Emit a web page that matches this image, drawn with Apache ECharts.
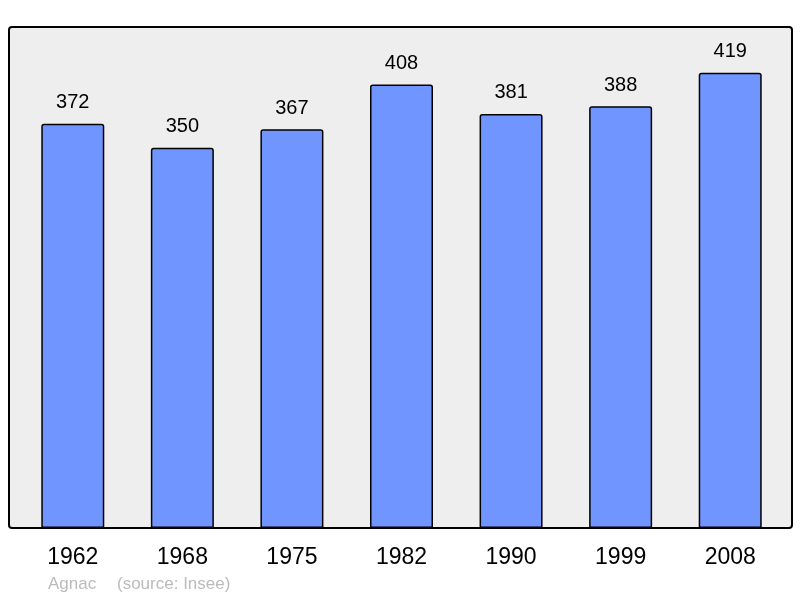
<!DOCTYPE html>
<html>
<head>
<meta charset="utf-8">
<script src="https://cdn.jsdelivr.net/npm/echarts@6/dist/echarts.min.js"></script>
<style>
html,body{margin:0;padding:0;background:#fff;}
#chart{width:800px;height:598px;}
</style>
</head>
<body>
<div id="chart"></div>
<script>
var years = ['1962', '1968', '1975', '1982', '1990', '1999', '2008'];
var population = [372, 350, 367, 408, 381, 388, 419];
var commune = 'Agnac';
var source = '(source: Insee)';

var myChart = echarts.init(document.getElementById('chart'));
var option = {
  animation: false,
  graphic: [
    {
      type: 'rect',
      z: -10,
      shape: { x: 9, y: 27, width: 783, height: 501, r: 3 },
      style: { fill: '#eeeeee', stroke: '#000', lineWidth: 2 }
    },
    {
      type: 'text',
      left: 48, top: 576,
      style: { text: commune, fill: '#bbbbbb', font: '17px "Liberation Sans", Arial, sans-serif' }
    },
    {
      type: 'text',
      left: 117, top: 576,
      style: { text: source, fill: '#bbbbbb', font: '17px "Liberation Sans", Arial, sans-serif' }
    }
  ],
  grid: { left: 18, right: 15, top: 27, bottom: 70 },
  xAxis: {
    type: 'category',
    data: years,
    axisLine: { show: false },
    axisTick: { show: false },
    axisLabel: {
      color: '#000',
      fontSize: 23,
      fontFamily: '"Liberation Sans", Arial, sans-serif',
      margin: 18
    }
  },
  yAxis: {
    type: 'value',
    min: 0,
    max: 461,
    show: false,
    splitLine: { show: false }
  },
  series: [{
    type: 'bar',
    data: population,
    barWidth: 63,
    itemStyle: {
      color: '#7095ff',
      borderColor: '#000',
      borderWidth: 1.5,
      borderRadius: [2, 2, 0, 0]
    },
    label: {
      show: true,
      position: 'top',
      distance: 11,
      color: '#000',
      fontSize: 20,
      fontFamily: '"Liberation Sans", Arial, sans-serif'
    }
  }]
};
myChart.setOption(option);
</script>
</body>
</html>
